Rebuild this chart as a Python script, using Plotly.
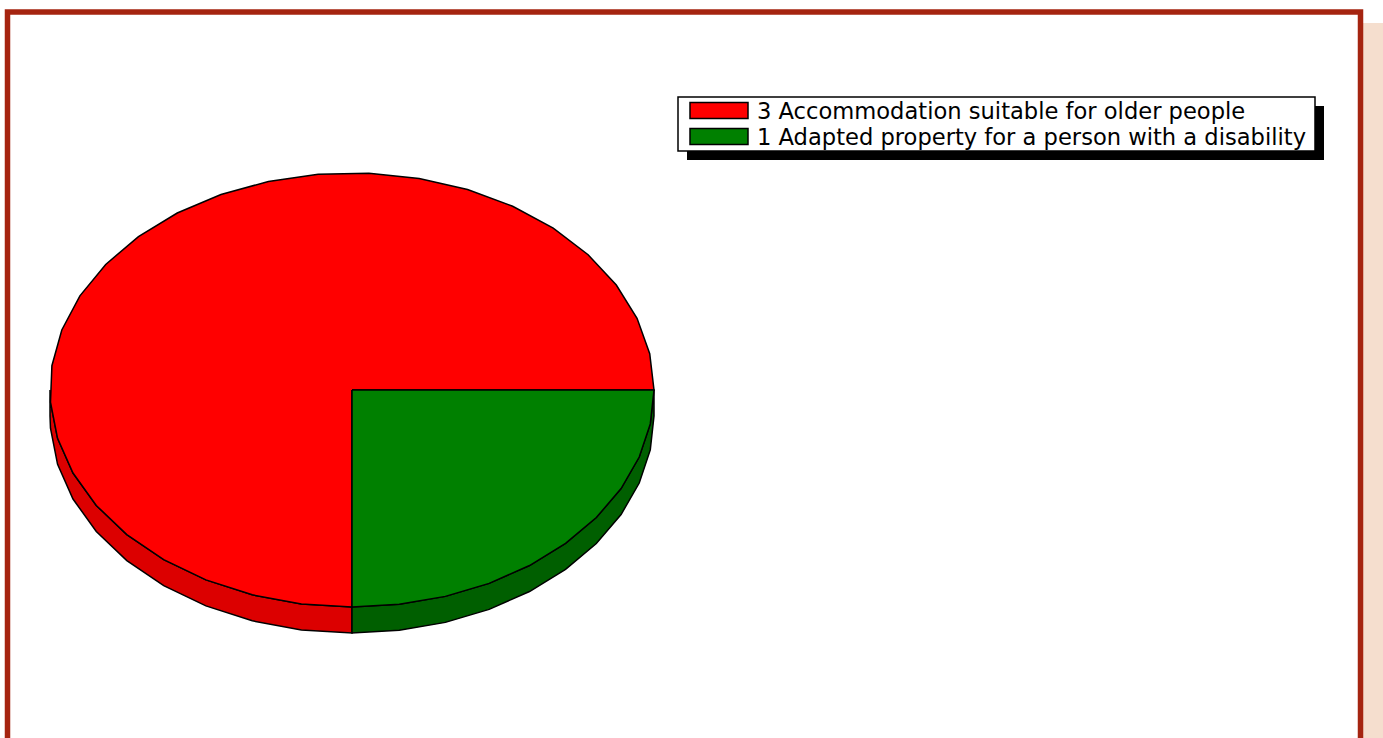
import math
import plotly.graph_objects as go

# Data
labels = ["Accommodation suitable for older people",
          "Adapted property for a person with a disability"]
counts = [3, 1]
top_colors = ["#FF0000", "#008000"]
side_colors = ["#DC0000", "#005F00"]

# Page size and pie geometry (pixel units on the plotting axes)
W, H = 1383, 738
CX, CY = 352, 390      # centre of the top face
RX, RY = 302, 217      # ellipse radii
DEPTH = 26             # thickness of the disc
MAX_STEP = 10.0        # max degrees per polygon segment


def ell(theta_deg, dy=0.0):
    t = math.radians(theta_deg)
    return CX + RX * math.cos(t), CY - RY * math.sin(t) + dy


def arc_angles(a0, a1):
    n = int((a1 - a0) / MAX_STEP) + 1
    return [a0 + (a1 - a0) * k / n for k in range(n + 1)]


total = sum(counts)
slices = []
start = 0.0
for c in counts:
    sweep = 360.0 * c / total
    slices.append((start, start + sweep))
    start += sweep

fig = go.Figure()

# Side walls (front half only: 180..360 degrees)
for (a0, a1), col in zip(slices, side_colors):
    lo, hi = max(a0, 180.0), min(a1, 360.0)
    if hi <= lo:
        continue
    angs = [a for a in arc_angles(a0, a1) if lo <= a <= hi]
    if angs[0] > lo:
        angs.insert(0, lo)
    if angs[-1] < hi:
        angs.append(hi)
    top = [ell(a) for a in angs]
    bot = [ell(a, DEPTH) for a in reversed(angs)]
    pts = top + bot + [top[0]]
    fig.add_trace(go.Scatter(
        x=[p[0] for p in pts], y=[p[1] for p in pts],
        mode="lines", fill="toself", fillcolor=col,
        line=dict(color="black", width=1.5),
        hoverinfo="skip", showlegend=False))

# Top faces
for (a0, a1), col, lab, c in zip(slices, top_colors, labels, counts):
    pts = [(CX, CY)] + [ell(a) for a in arc_angles(a0, a1)] + [(CX, CY)]
    fig.add_trace(go.Scatter(
        x=[p[0] for p in pts], y=[p[1] for p in pts],
        mode="lines", fill="toself", fillcolor=col,
        line=dict(color="black", width=1.5),
        name=f"{c} {lab}", hoverinfo="skip", showlegend=False))

shapes = []
# Outer frame and side strip
shapes.append(dict(type="rect", xref="x", yref="y", x0=1363, x1=W, y0=23, y1=H + 10,
                   line=dict(width=0), fillcolor="#F5DECE", layer="below"))
shapes.append(dict(type="rect", xref="x", yref="y", x0=7.5, x1=1360.5, y0=12, y1=H + 20,
                   line=dict(color="#A52410", width=5.5), fillcolor="rgba(0,0,0,0)"))

# Legend box with drop shadow
LX0, LY0, LX1, LY1 = 678, 97, 1315, 151
SH = 9
shapes.append(dict(type="rect", xref="x", yref="y", x0=LX0 + SH, x1=LX1 + SH,
                   y0=LY0 + SH, y1=LY1 + SH, line=dict(width=0), fillcolor="black"))
shapes.append(dict(type="rect", xref="x", yref="y", x0=LX0, x1=LX1, y0=LY0, y1=LY1,
                   line=dict(color="black", width=1.5), fillcolor="white"))

annotations = []
row_h = 26
for i, (col, lab, c) in enumerate(zip(top_colors, labels, counts)):
    yc = 110.5 + i * row_h
    shapes.append(dict(type="rect", xref="x", yref="y", x0=690, x1=748,
                       y0=yc - 8, y1=yc + 8,
                       line=dict(color="black", width=1.5), fillcolor=col))
    annotations.append(dict(x=755, y=yc + 0.5, xref="x", yref="y", text=f"{c} {lab}",
                            showarrow=False, xanchor="left", yanchor="middle",
                            font=dict(family="DejaVu Sans", size=22.6, color="black")))

fig.update_layout(
    width=W, height=H,
    margin=dict(l=0, r=0, t=0, b=0),
    paper_bgcolor="white", plot_bgcolor="white",
    xaxis=dict(range=[0, W], visible=False, fixedrange=True),
    yaxis=dict(range=[H, 0], visible=False, fixedrange=True),
    shapes=shapes, annotations=annotations, showlegend=False,
)

fig.write_html("out.html")
